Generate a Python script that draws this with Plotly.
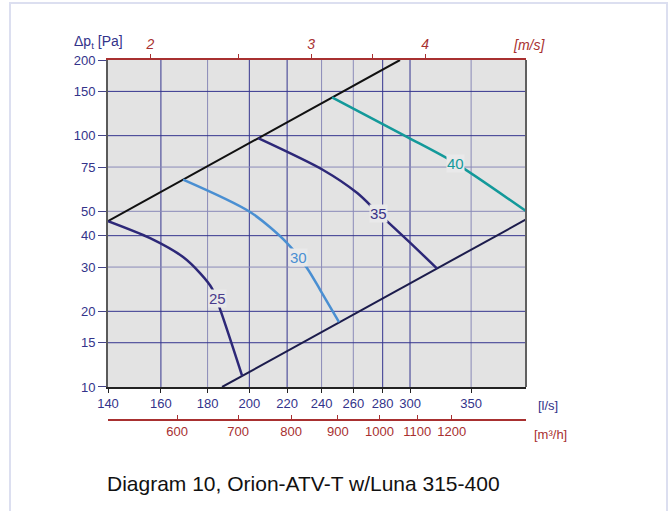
import numpy as np
import plotly.graph_objects as go

# ---------------- data ----------------
flow_ticks = [140, 160, 180, 200, 220, 240, 260, 280, 300, 350]
pa_ticks = [10, 15, 20, 30, 40, 50, 75, 100, 150, 200]
ms_ticks = [2, 3, 4]
ms_minor_ticks = [2.5, 3.5]
m3h_ticks = [600, 700, 800, 900, 1000, 1100, 1200]
duct_area_m2 = 0.0779  # l/s per m/s = 1000*area

grid_dark_x = [160, 200, 220, 280, 300]
grid_light_x = [180, 240, 260, 350]
grid_dark_y = [15, 20, 40, 100, 150]
grid_light_y = [30, 50, 75]

sys_hi_q = [140, 292.5]
sys_hi_p = [45.7, 200]
sys_lo_q = [186.7, 402]
sys_lo_p = [10, 46.4]

c25_q = [140, 155.7, 169.2, 176.6, 182.0, 186.2, 196.4]
c25_p = [45.7, 39.1, 32.9, 28.4, 24.7, 19.9, 11.07]
c30_q = [169.2, 200.4, 220.0, 231.4, 239.2, 250.8]
c30_p = [66.9, 49.7, 37.4, 29.7, 24.3, 18.1]
c35_q = [204.5, 240.9, 262.6, 276.9, 298.0, 321.2]
c35_p = [97.7, 73.0, 59.1, 49.2, 38.4, 29.6]
c40_q = [246.4, 298.0, 336.3, 402]
c40_p = [141.9, 98.7, 77.8, 50.1]

curve_labels = ["25", "30", "35", "40"]
label_q = [184.4, 226.2, 276.9, 336.3]
label_p = [22.4, 32.9, 49.2, 77.8]

# ---------------- style ----------------
NAVY = "#33338a"
RED = "#a83030"
PLOTBG = "#e3e3e3"
FONT = "Liberation Sans"
X_MIN, X_MAX = 140, 402
Y_MIN, Y_MAX = 10, 200

c_dark = "#2d2878"
c_blue = "#4a8fd2"
c_teal = "#13999a"
label_colors = ["#4a3c8c", c_blue, "#3a3488", c_teal]

fig = go.Figure()

# grid lines (drawn first, under the curves)
def vlines(vals):
    xs, ys = [], []
    for v in vals:
        xs += [v, v, None]
        ys += [Y_MIN, Y_MAX, None]
    return xs, ys

def hlines(vals):
    xs, ys = [], []
    for v in vals:
        xs += [X_MIN, X_MAX, None]
        ys += [v, v, None]
    return xs, ys

for fn, vals, col in [(vlines, grid_dark_x, "#35358f"), (vlines, grid_light_x, "#8a8ab8"),
                      (hlines, grid_dark_y, "#35358f"), (hlines, grid_light_y, "#8a8ab8")]:
    gx, gy = fn(vals)
    fig.add_trace(go.Scatter(x=gx, y=gy, mode="lines", line=dict(color=col, width=1),
                             hoverinfo="skip", cliponaxis=True))

fig.add_trace(go.Scatter(x=sys_hi_q, y=sys_hi_p, mode="lines",
                         line=dict(color="#111111", width=2), hoverinfo="skip"))
fig.add_trace(go.Scatter(x=sys_lo_q, y=sys_lo_p, mode="lines",
                         line=dict(color="#1c1c4c", width=2), hoverinfo="skip"))
for q, p, col in [(c25_q, c25_p, c_dark), (c30_q, c30_p, c_blue),
                  (c35_q, c35_p, c_dark), (c40_q, c40_p, c_teal)]:
    fig.add_trace(go.Scatter(x=q, y=p, mode="lines",
                             line=dict(color=col, width=2.5, shape="spline", smoothing=0.8),
                             hoverinfo="skip"))

# invisible traces to activate the secondary axes
fig.add_trace(go.Scatter(x=[X_MIN], y=[Y_MIN], xaxis="x2", mode="markers",
                         marker=dict(opacity=0), hoverinfo="skip"))
fig.add_trace(go.Scatter(x=[X_MIN], y=[Y_MIN], xaxis="x3", mode="markers",
                         marker=dict(opacity=0), hoverinfo="skip"))

shapes = [
    # right border of the plot
    dict(type="line", xref="paper", yref="paper", x0=1, x1=1, y0=0.0917, y1=1,
         line=dict(color="#606060", width=2)),
    # outer frame
    dict(type="rect", xref="paper", yref="paper",
         x0=-0.2344, x1=1.3373, y0=-0.27, y1=1.1583,
         line=dict(color="#dcdff0", width=2)),
]

annotations = []
for t, q, p, col in zip(curve_labels, label_q, label_p, label_colors):
    annotations.append(dict(x=np.log10(q), y=np.log10(p), xref="x", yref="y", text=t,
                            showarrow=False, font=dict(family=FONT, size=15, color=col),
                            bgcolor="#e9e9ea", borderpad=0))
annotations += [
    dict(x=-0.085, y=1.05, xref="paper", yref="paper", xanchor="left", yanchor="middle",
         text="Δp<sub>t</sub> [Pa]", showarrow=False,
         font=dict(family=FONT, size=14, color=NAVY)),
    dict(x=0.965, y=1.043, xref="paper", yref="paper", xanchor="left", yanchor="middle",
         text="[m/s]", showarrow=False,
         font=dict(family=FONT, size=14, color=RED, style="italic")),
    dict(x=1.025, y=(420 - 405) / 360, xref="paper", yref="paper", xanchor="left", yanchor="middle",
         text="[l/s]", showarrow=False, font=dict(family=FONT, size=13, color=NAVY)),
    dict(x=1.015, y=(420 - 434) / 360, xref="paper", yref="paper", xanchor="left", yanchor="middle",
         text="[m³/h]", showarrow=False, font=dict(family=FONT, size=13, color=RED)),
    dict(x=-0.007, y=(420 - 483) / 360, xref="paper", yref="paper", xanchor="left", yanchor="middle",
         text="Diagram 10, Orion-ATV-T w/Luna 315-400", showarrow=False,
         font=dict(family=FONT, size=21, color="#111111")),
]

xr = [np.log10(X_MIN), np.log10(X_MAX)]
fig.update_layout(
    width=669, height=511,
    margin=dict(l=108, r=143, t=60, b=91),
    paper_bgcolor="white", plot_bgcolor=PLOTBG,
    showlegend=False,
    font=dict(family=FONT, size=13, color=NAVY),
    xaxis=dict(type="log", range=xr, anchor="y", tickmode="array", tickvals=flow_ticks,
               ticktext=[str(v) for v in flow_ticks], ticks="outside", ticklen=4,
               tickcolor="#222222", showline=True, linecolor="#222222", linewidth=1.5,
               showgrid=False, zeroline=False, tickfont=dict(color=NAVY, size=13)),
    xaxis2=dict(type="log", range=xr, overlaying="x", side="top", anchor="y",
                tickmode="array", tickvals=[v * duct_area_m2 * 1000 for v in ms_ticks],
                ticktext=[str(v) for v in ms_ticks], ticks="outside", ticklen=4, tickcolor=RED,
                minor=dict(tickmode="array", tickvals=[v * duct_area_m2 * 1000 for v in ms_minor_ticks],
                           ticks="outside", ticklen=4, tickcolor=RED, showgrid=False),
                showline=True, linecolor=RED, linewidth=1.5, showgrid=False, zeroline=False,
                tickfont=dict(color=RED, size=14, style="italic")),
    xaxis3=dict(type="log", range=xr, overlaying="x", side="bottom", anchor="free", position=0,
                tickmode="array", tickvals=[v / 3.6 for v in m3h_ticks],
                ticktext=[str(v) for v in m3h_ticks], ticks="inside", ticklen=4, tickcolor=RED,
                showline=True, linecolor=RED, linewidth=1.5, showgrid=False, zeroline=False,
                tickfont=dict(color=RED, size=13)),
    yaxis=dict(type="log", range=[np.log10(Y_MIN), np.log10(Y_MAX)], domain=[0.0917, 1],
               tickmode="array", tickvals=pa_ticks, ticktext=[str(v) for v in pa_ticks],
               ticks="outside", ticklen=8, tickcolor="#44448a", showline=True,
               linecolor="#5a5a5a", linewidth=2, showgrid=False, zeroline=False,
               tickfont=dict(color=NAVY, size=13)),
    shapes=shapes, annotations=annotations,
)

fig.write_html("out.html")
